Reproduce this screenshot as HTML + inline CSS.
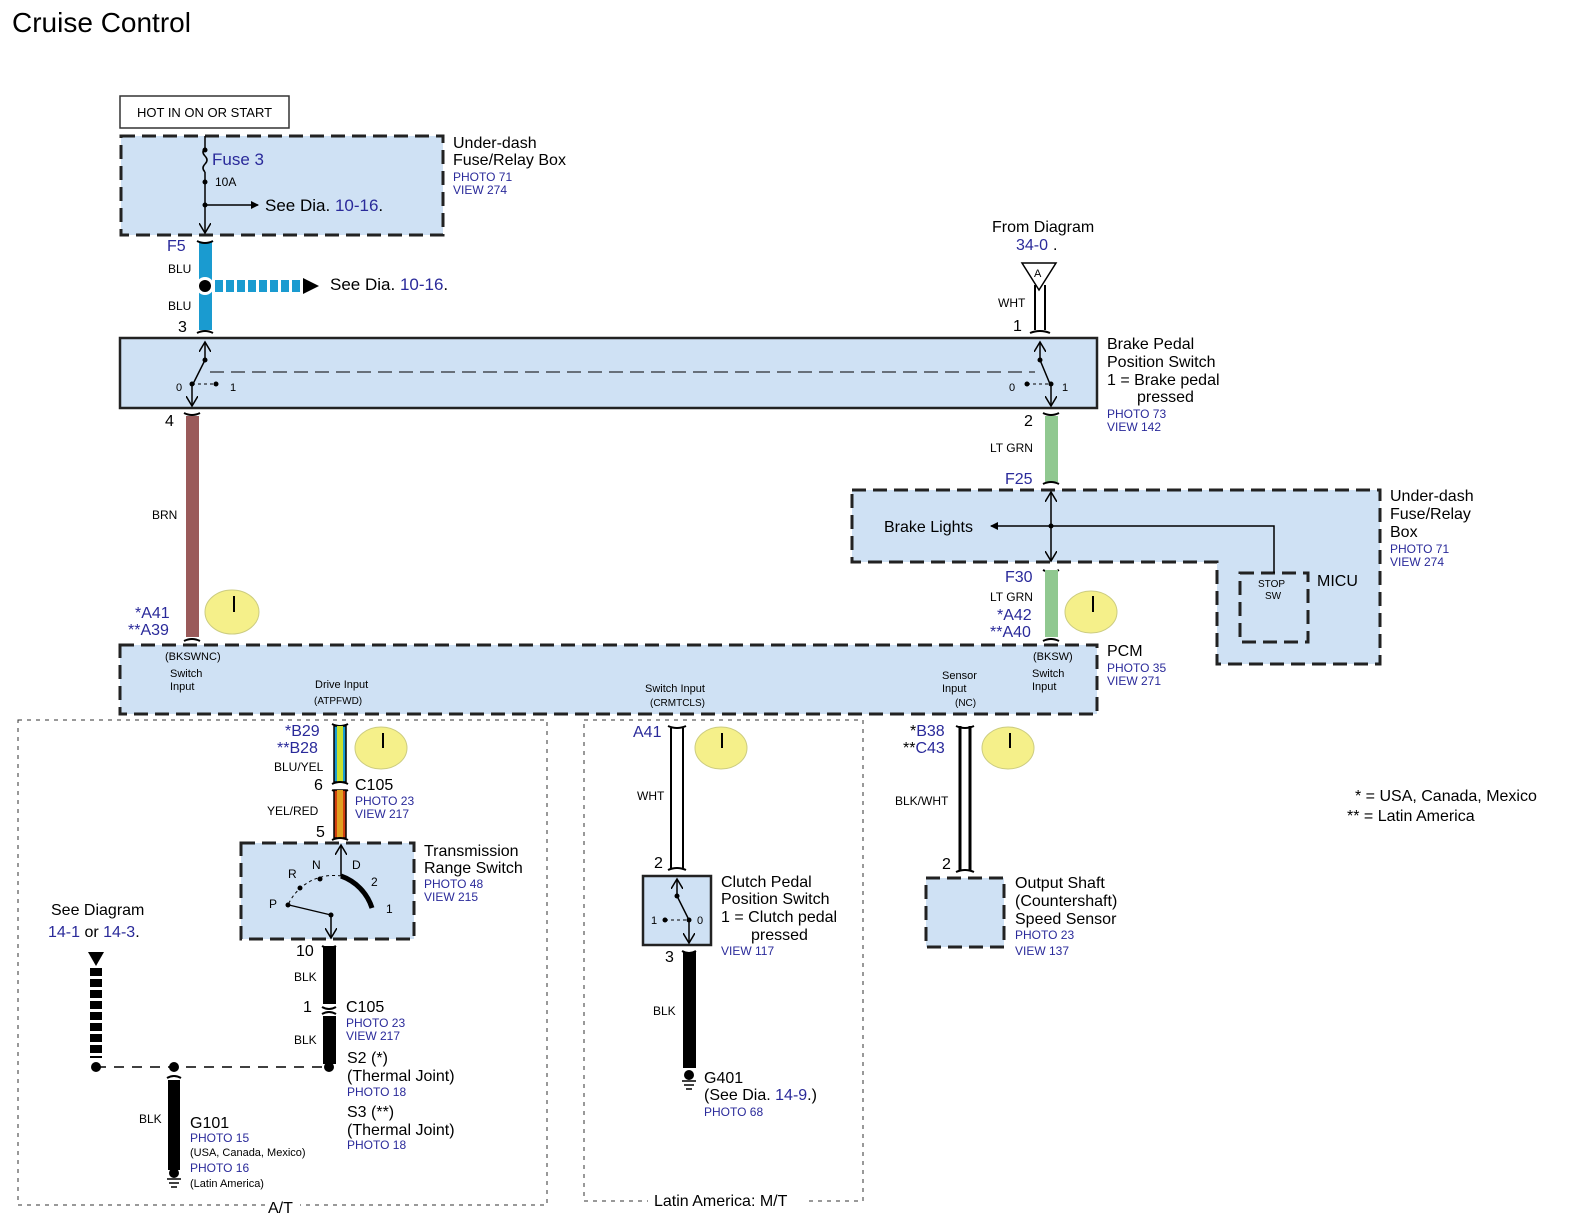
<!DOCTYPE html>
<html><head><meta charset="utf-8"><style>
html,body{margin:0;padding:0;background:#fff;}
svg{display:block;font-family:"Liberation Sans",sans-serif;}
.b{fill:#2a2a9a}
.bx{fill:#cfe1f4;stroke:#222;stroke-width:3;stroke-dasharray:14,7}
</style></head><body>
<svg width="1574" height="1230" viewBox="0 0 1574 1230" xmlns="http://www.w3.org/2000/svg">
<defs>
<marker id="ar" markerWidth="8" markerHeight="8" refX="7" refY="4" orient="auto" markerUnits="userSpaceOnUse"><path d="M0,0 L8,4 L0,8 z" fill="#000"/></marker>
<marker id="av" markerWidth="12" markerHeight="12" refX="10" refY="6" orient="auto" markerUnits="userSpaceOnUse"><path d="M0,0 L10,6 L0,12" fill="none" stroke="#000" stroke-width="1.5"/></marker>
</defs>
<text x="12" y="32" font-size="28">Cruise Control</text>

<!-- HOT -->
<rect x="120" y="96" width="169" height="32" fill="#fff" stroke="#333" stroke-width="1.5"/>
<text x="137" y="117" font-size="13">HOT IN ON OR START</text>

<!-- top fuse box -->
<rect x="121" y="136" width="322" height="99" class="bx"/>
<line x1="205" y1="136" x2="205" y2="148" stroke="#000" stroke-width="1.5"/>
<path d="M205,148 q-4,4 0,8 q4,4 0,8 q-4,4 0,8" fill="none" stroke="#000" stroke-width="1.5"/>
<line x1="205" y1="172" x2="205" y2="233" stroke="#000" stroke-width="1.5" marker-end="url(#av)"/>
<circle cx="205" cy="150" r="2.5"/><circle cx="205" cy="182" r="2.5"/><circle cx="205" cy="205" r="2.5"/>
<line x1="205" y1="205" x2="258" y2="205" stroke="#000" stroke-width="1.5" marker-end="url(#ar)"/>
<text x="212" y="165" font-size="17" class="b">Fuse 3</text>
<text x="215" y="186" font-size="12">10A</text>
<text x="265" y="211" font-size="17">See  Dia.  <tspan class="b">10-16</tspan>.</text>
<text x="453" y="148" font-size="16">Under-dash</text>
<text x="453" y="165" font-size="16">Fuse/Relay Box</text>
<text x="453" y="181" font-size="12" class="b">PHOTO 71</text>
<text x="453" y="194" font-size="12" class="b">VIEW 274</text>

<!-- F5 wire -->
<rect x="199" y="242" width="13" height="88" fill="#1a9bd0"/>
<path d="M197,241 q8,4 16,0 M197,333 q8,-4 16,0" fill="none" stroke="#000" stroke-width="2"/>
<text x="167" y="251" font-size="16" class="b">F5</text>
<text x="168" y="273" font-size="12">BLU</text>
<text x="168" y="310" font-size="12">BLU</text>
<text x="178" y="332" font-size="16">3</text>
<circle cx="205" cy="286" r="9" fill="#fff"/><circle cx="205" cy="286" r="6"/>
<line x1="215" y1="286" x2="305" y2="286" stroke="#1a9bd0" stroke-width="12" stroke-dasharray="8,3"/>
<path d="M303,278 L319,286 L303,294 z"/>
<text x="330" y="290" font-size="17">See  Dia.  <tspan class="b">10-16</tspan>.</text>

<!-- From diagram -->
<text x="992" y="232" font-size="16">From Diagram</text>
<text x="1016" y="250" font-size="16" class="b">34-0</text><text x="1053" y="250" font-size="16">.</text>
<path d="M1022,263 L1056,263 L1039,290 z" fill="#fff" stroke="#000" stroke-width="1.5"/>
<text x="1034" y="277" font-size="11">A</text>
<line x1="1035" y1="285" x2="1035" y2="330" stroke="#000" stroke-width="2"/>
<line x1="1045" y1="285" x2="1045" y2="330" stroke="#000" stroke-width="2"/>
<text x="998" y="307" font-size="12">WHT</text>
<text x="1013" y="331" font-size="16">1</text>
<path d="M1030,333 q10,-4 20,0" fill="none" stroke="#000" stroke-width="2"/>

<!-- Brake pedal switch -->
<rect x="120" y="338" width="977" height="70" fill="#cfe1f4" stroke="#222" stroke-width="2.5"/>
<line x1="205" y1="360" x2="205" y2="342" stroke="#000" stroke-width="1.5" marker-end="url(#av)"/>
<circle cx="205" cy="360" r="2.5"/>
<line x1="205" y1="360" x2="193" y2="384" stroke="#000" stroke-width="1.5"/>
<circle cx="192" cy="384" r="2.5"/><circle cx="216" cy="384" r="2.5"/>
<line x1="192" y1="384" x2="214" y2="384" stroke="#000" stroke-dasharray="3,3"/>
<line x1="192" y1="384" x2="192" y2="406" stroke="#000" stroke-width="1.5" marker-end="url(#av)"/>
<text x="176" y="391" font-size="11">0</text><text x="230" y="391" font-size="11">1</text>
<line x1="210" y1="372" x2="1035" y2="372" stroke="#000" stroke-dasharray="14,7"/>
<line x1="1040" y1="360" x2="1040" y2="342" stroke="#000" stroke-width="1.5" marker-end="url(#av)"/>
<circle cx="1040" cy="360" r="2.5"/>
<line x1="1040" y1="360" x2="1050" y2="384" stroke="#000" stroke-width="1.5"/>
<circle cx="1027" cy="384" r="2.5"/><circle cx="1051" cy="384" r="2.5"/>
<line x1="1027" y1="384" x2="1050" y2="384" stroke="#000" stroke-dasharray="3,3"/>
<line x1="1051" y1="384" x2="1051" y2="406" stroke="#000" stroke-width="1.5" marker-end="url(#av)"/>
<text x="1009" y="391" font-size="11">0</text><text x="1062" y="391" font-size="11">1</text>
<text x="1107" y="349" font-size="16">Brake Pedal</text>
<text x="1107" y="367" font-size="16">Position Switch</text>
<text x="1107" y="385" font-size="16">1 = Brake pedal</text>
<text x="1137" y="402" font-size="16">pressed</text>
<text x="1107" y="418" font-size="12" class="b">PHOTO 73</text>
<text x="1107" y="431" font-size="12" class="b">VIEW 142</text>

<!-- BRN wire -->
<path d="M184,413 q8,4 16,0" fill="none" stroke="#000" stroke-width="2"/>
<text x="165" y="426" font-size="16">4</text>
<rect x="186" y="416" width="13" height="221" fill="#9a5a5a"/>
<text x="152" y="519" font-size="12">BRN</text>
<text x="135" y="618" font-size="16" class="b">*A41</text>
<text x="128" y="635" font-size="16" class="b">**A39</text>
<path d="M184,641 q8,-4 16,0" fill="none" stroke="#000" stroke-width="2"/>
<ellipse cx="232" cy="612" rx="27" ry="22" fill="#f5f08a" stroke="#cccc80"/>
<line x1="234" y1="596" x2="234" y2="612" stroke="#000" stroke-width="2"/>

<!-- LT GRN -->
<path d="M1043,413 q8,4 16,0" fill="none" stroke="#000" stroke-width="2"/>
<text x="1024" y="426" font-size="16">2</text>
<rect x="1045" y="416" width="13" height="66" fill="#90c890"/>
<text x="990" y="452" font-size="12">LT GRN</text>
<text x="1005" y="484" font-size="16" class="b">F25</text>
<path d="M1043,484 q8,-4 16,0 M1043,570 q8,4 16,0" fill="none" stroke="#000" stroke-width="2"/>
<rect x="1045" y="570" width="13" height="67" fill="#90c890"/>
<text x="1005" y="582" font-size="16" class="b">F30</text>
<text x="990" y="601" font-size="12">LT GRN</text>
<text x="997" y="620" font-size="16" class="b">*A42</text>
<text x="990" y="637" font-size="16" class="b">**A40</text>
<path d="M1043,641 q8,-4 16,0" fill="none" stroke="#000" stroke-width="2"/>
<ellipse cx="1091" cy="612" rx="26" ry="21" fill="#f5f08a" stroke="#cccc80"/>
<line x1="1093" y1="596" x2="1093" y2="612" stroke="#000" stroke-width="2"/>

<!-- fuse box 2 -->
<path d="M852,490 L1380,490 L1380,664 L1217,664 L1217,562 L852,562 z" class="bx"/>
<rect x="1240" y="573" width="68" height="69" class="bx"/>
<line x1="1051" y1="526" x2="1051" y2="492" stroke="#000" stroke-width="1.5" marker-end="url(#av)"/>
<line x1="1051" y1="526" x2="1051" y2="561" stroke="#000" stroke-width="1.5" marker-end="url(#av)"/>
<circle cx="1051" cy="526" r="2.5"/>
<line x1="1051" y1="526" x2="991" y2="526" stroke="#000" stroke-width="1.5" marker-end="url(#ar)"/>
<path d="M1051,526 L1274,526 L1274,573" fill="none" stroke="#000" stroke-width="1.5"/>
<text x="884" y="532" font-size="16">Brake Lights</text>
<text x="1258" y="587" font-size="10">STOP</text><text x="1265" y="599" font-size="10">SW</text>
<text x="1317" y="586" font-size="16">MICU</text>
<text x="1390" y="501" font-size="16">Under-dash</text>
<text x="1390" y="519" font-size="16">Fuse/Relay</text>
<text x="1390" y="537" font-size="16">Box</text>
<text x="1390" y="553" font-size="12" class="b">PHOTO 71</text>
<text x="1390" y="566" font-size="12" class="b">VIEW 274</text>

<!-- PCM -->
<rect x="120" y="645" width="977" height="69" class="bx"/>
<g font-size="11">
<text x="165" y="660">(BKSWNC)</text>
<text x="170" y="677">Switch</text><text x="170" y="690">Input</text>
<text x="315" y="688">Drive Input</text><text x="314" y="704" font-size="10">(ATPFWD)</text>
<text x="645" y="692">Switch Input</text><text x="650" y="706" font-size="10">(CRMTCLS)</text>
<text x="942" y="679">Sensor</text><text x="942" y="692">Input</text><text x="955" y="706" font-size="10">(NC)</text>
<text x="1033" y="660">(BKSW)</text>
<text x="1032" y="677">Switch</text><text x="1032" y="690">Input</text>
</g>
<text x="1107" y="656" font-size="16">PCM</text>
<text x="1107" y="672" font-size="12" class="b">PHOTO 35</text>
<text x="1107" y="685" font-size="12" class="b">VIEW 271</text>

<!-- A/T region -->
<rect x="18" y="720" width="529" height="485" fill="none" stroke="#333" stroke-dasharray="4,5"/>
<rect x="268" y="1198" width="32" height="14" fill="#fff"/>
<text x="268" y="1213" font-size="16">A/T</text>
<rect x="584" y="720" width="279" height="481" fill="none" stroke="#333" stroke-dasharray="4,5"/>
<rect x="648" y="1192" width="160" height="14" fill="#fff"/>
<text x="654" y="1206" font-size="16">Latin America: M/T</text>

<!-- B29 wire -->
<path d="M332,724 q8,4 16,0" fill="none" stroke="#000" stroke-width="2"/>
<rect x="334" y="726" width="12" height="56" fill="#1a9bd0" stroke="#000" stroke-width="1.5"/>
<rect x="337" y="726" width="6" height="56" fill="#c8e030"/>
<path d="M332,784 q8,-4 16,0 M332,790 q8,4 16,0" fill="none" stroke="#000" stroke-width="2"/>
<rect x="334" y="790" width="12" height="48" fill="#d04010" stroke="#000" stroke-width="1.5"/>
<rect x="337" y="790" width="6" height="48" fill="#e0a020"/>
<path d="M332,840 q8,-4 16,0" fill="none" stroke="#000" stroke-width="2"/>
<text x="285" y="736" font-size="16" class="b">*B29</text>
<text x="277" y="753" font-size="16" class="b">**B28</text>
<text x="274" y="771" font-size="12">BLU/YEL</text>
<text x="314" y="790" font-size="16">6</text>
<text x="355" y="790" font-size="16">C105</text>
<text x="355" y="805" font-size="12" class="b">PHOTO 23</text>
<text x="355" y="818" font-size="12" class="b">VIEW 217</text>
<text x="267" y="815" font-size="12">YEL/RED</text>
<text x="316" y="837" font-size="16">5</text>
<ellipse cx="381" cy="748" rx="26" ry="21" fill="#f5f08a" stroke="#cccc80"/>
<line x1="383" y1="733" x2="383" y2="748" stroke="#000" stroke-width="2"/>

<!-- TRS -->
<rect x="241" y="843" width="173" height="96" class="bx"/>
<line x1="341" y1="876" x2="341" y2="845" stroke="#000" stroke-width="1.5" marker-end="url(#av)"/>
<path d="M341,876 A50,50 0 0 1 372,908" fill="none" stroke="#000" stroke-width="5"/>
<path d="M341,876 A50,50 0 0 0 288,905" fill="none" stroke="#000" stroke-dasharray="3,3"/>
<circle cx="300" cy="888" r="2.5"/><circle cx="320" cy="879" r="2.5"/><circle cx="288" cy="905" r="2.5"/>
<line x1="331" y1="915" x2="289" y2="905" stroke="#000" stroke-width="1.2"/>
<circle cx="331" cy="915" r="2.5"/>
<line x1="331" y1="915" x2="331" y2="938" stroke="#000" stroke-width="1.5" marker-end="url(#av)"/>
<g font-size="12"><text x="312" y="869">N</text><text x="288" y="878">R</text><text x="269" y="908">P</text><text x="352" y="869">D</text><text x="371" y="886">2</text><text x="386" y="913">1</text></g>
<text x="424" y="856" font-size="16">Transmission</text>
<text x="424" y="873" font-size="16">Range Switch</text>
<text x="424" y="888" font-size="12" class="b">PHOTO 48</text>
<text x="424" y="901" font-size="12" class="b">VIEW 215</text>

<!-- BLK to S2 -->
<path d="M322,946 q7,4 14,0" fill="none" stroke="#000" stroke-width="2"/>
<rect x="323" y="946" width="13" height="58" fill="#000"/>
<rect x="323" y="1016" width="13" height="48" fill="#000"/>
<path d="M322,1007 q7,4 14,0 M322,1014 q7,-4 14,0" fill="none" stroke="#000" stroke-width="2"/>
<text x="296" y="956" font-size="16">10</text>
<text x="294" y="981" font-size="12">BLK</text>
<text x="303" y="1012" font-size="16">1</text>
<text x="294" y="1044" font-size="12">BLK</text>
<text x="346" y="1012" font-size="16">C105</text>
<text x="346" y="1027" font-size="12" class="b">PHOTO 23</text>
<text x="346" y="1040" font-size="12" class="b">VIEW 217</text>
<text x="347" y="1063" font-size="16">S2 (*)</text>
<text x="347" y="1081" font-size="16">(Thermal Joint)</text>
<text x="347" y="1096" font-size="12" class="b">PHOTO 18</text>
<text x="347" y="1117" font-size="16">S3 (**)</text>
<text x="347" y="1135" font-size="16">(Thermal Joint)</text>
<text x="347" y="1149" font-size="12" class="b">PHOTO 18</text>
<line x1="96" y1="1067" x2="329" y2="1067" stroke="#000" stroke-width="1.5" stroke-dasharray="10,8"/>
<circle cx="329" cy="1067" r="5"/><circle cx="96" cy="1067" r="5"/><circle cx="174" cy="1067" r="5"/>
<text x="51" y="915" font-size="16">See Diagram</text>
<text x="48" y="937" font-size="16"><tspan class="b">14-1</tspan> or <tspan class="b">14-3</tspan>.</text>
<path d="M88,952 L104,952 L96,966 z"/>
<line x1="96" y1="968" x2="96" y2="1058" stroke="#000" stroke-width="12" stroke-dasharray="8,3"/>

<!-- G101 -->
<rect x="168" y="1080" width="12" height="90" fill="#000"/>
<path d="M167,1078 q7,-4 14,0" fill="none" stroke="#000" stroke-width="2"/>
<circle cx="174" cy="1173" r="5"/>
<path d="M167,1179 h14 M169,1183 h10 M171,1187 h6" stroke="#000" stroke-width="1.5"/>
<text x="139" y="1123" font-size="12">BLK</text>
<text x="190" y="1128" font-size="16">G101</text>
<text x="190" y="1142" font-size="12" class="b">PHOTO 15</text>
<text x="190" y="1156" font-size="11">(USA, Canada, Mexico)</text>
<text x="190" y="1172" font-size="12" class="b">PHOTO 16</text>
<text x="190" y="1187" font-size="11">(Latin America)</text>

<!-- Clutch -->
<path d="M668,726 q9,4 18,0" fill="none" stroke="#000" stroke-width="2"/>
<line x1="671" y1="728" x2="671" y2="868" stroke="#000" stroke-width="2"/>
<line x1="683" y1="728" x2="683" y2="868" stroke="#000" stroke-width="2"/>
<path d="M668,870 q9,-4 18,0" fill="none" stroke="#000" stroke-width="2"/>
<text x="633" y="737" font-size="16" class="b">A41</text>
<text x="637" y="800" font-size="12">WHT</text>
<text x="654" y="868" font-size="16">2</text>
<ellipse cx="721" cy="748" rx="26" ry="21" fill="#f5f08a" stroke="#cccc80"/>
<line x1="722" y1="733" x2="722" y2="748" stroke="#000" stroke-width="2"/>
<rect x="643" y="876" width="68" height="69" fill="#cfe1f4" stroke="#222" stroke-width="2.5"/>
<line x1="677" y1="896" x2="677" y2="879" stroke="#000" stroke-width="1.5" marker-end="url(#av)"/>
<circle cx="677" cy="896" r="2.5"/>
<line x1="677" y1="896" x2="688" y2="918" stroke="#000" stroke-width="1.5"/>
<circle cx="665" cy="920" r="2.5"/><circle cx="689" cy="920" r="2.5"/>
<line x1="665" y1="920" x2="689" y2="920" stroke="#000" stroke-dasharray="3,3"/>
<line x1="689" y1="920" x2="689" y2="943" stroke="#000" stroke-width="1.5" marker-end="url(#av)"/>
<text x="651" y="924" font-size="11">1</text><text x="697" y="924" font-size="11">0</text>
<text x="721" y="887" font-size="16">Clutch Pedal</text>
<text x="721" y="904" font-size="16">Position Switch</text>
<text x="721" y="922" font-size="16">1 = Clutch pedal</text>
<text x="751" y="940" font-size="16">pressed</text>
<text x="721" y="955" font-size="12" class="b">VIEW 117</text>
<path d="M682,951 q7,4 14,0" fill="none" stroke="#000" stroke-width="2"/>
<rect x="683" y="952" width="13" height="116" fill="#000"/>
<text x="665" y="962" font-size="16">3</text>
<text x="653" y="1015" font-size="12">BLK</text>
<circle cx="689" cy="1075" r="5"/>
<path d="M682,1081 h14 M684,1085 h10 M686,1089 h6" stroke="#000" stroke-width="1.5"/>
<text x="704" y="1083" font-size="16">G401</text>
<text x="704" y="1100" font-size="16">(See Dia. <tspan class="b">14-9</tspan>.)</text>
<text x="704" y="1116" font-size="12" class="b">PHOTO 68</text>

<!-- Sensor -->
<line x1="960" y1="726" x2="960" y2="870" stroke="#000" stroke-width="3"/>
<line x1="970" y1="726" x2="970" y2="870" stroke="#000" stroke-width="3"/>
<path d="M956,726 q9,4 18,0 M956,872 q9,-4 18,0" fill="none" stroke="#000" stroke-width="2"/>
<text x="910" y="736" font-size="16" class="b"><tspan fill="#000">*</tspan>B38</text>
<text x="903" y="753" font-size="16" class="b"><tspan fill="#000">**</tspan>C43</text>
<text x="895" y="805" font-size="12">BLK/WHT</text>
<text x="942" y="869" font-size="16">2</text>
<ellipse cx="1008" cy="748" rx="26" ry="21" fill="#f5f08a" stroke="#cccc80"/>
<line x1="1010" y1="733" x2="1010" y2="748" stroke="#000" stroke-width="2"/>
<rect x="926" y="878" width="78" height="69" class="bx"/>
<text x="1015" y="888" font-size="16">Output Shaft</text>
<text x="1015" y="906" font-size="16">(Countershaft)</text>
<text x="1015" y="924" font-size="16">Speed Sensor</text>
<text x="1015" y="939" font-size="12" class="b">PHOTO 23</text>
<text x="1015" y="955" font-size="12" class="b">VIEW 137</text>

<!-- legend -->
<text x="1355" y="801" font-size="16">* =  USA, Canada, Mexico</text>
<text x="1347" y="821" font-size="16">** =  Latin America</text>
</svg>
</body></html>
